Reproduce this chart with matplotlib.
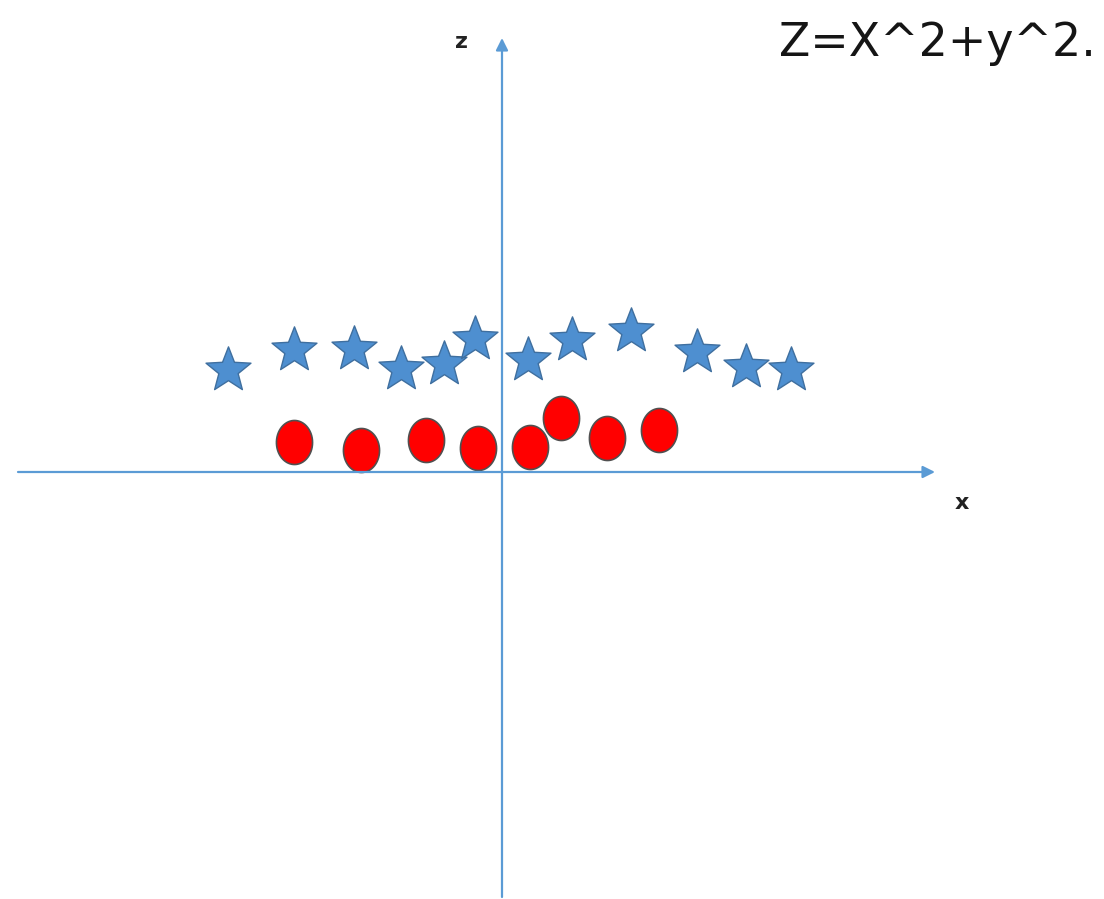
import numpy as np
import matplotlib.pyplot as plt
from matplotlib.path import Path

# points after mapping to z = x^2 + y^2 (x on the horizontal axis)
star_x = [-27.4, -20.8, -14.8, -10.1, -5.8, -2.7, 2.6, 7.0, 12.9, 19.5, 24.4, 28.9]
star_z = [10.2, 12.2, 12.3, 10.3, 10.8, 13.3, 11.2, 13.2, 14.1, 12.0, 10.5, 10.2]

dot_x = [-20.8, -14.1, -7.6, -2.4, 2.8, 5.9, 10.5, 15.7]
dot_z = [3.0, 2.2, 3.2, 2.4, 2.5, 5.4, 3.4, 4.2]

axis_color = "#5b9bd5"

fig = plt.figure(figsize=(11.04, 8.99), dpi=100)
ax = fig.add_axes([0, 0, 1, 1])
ax.set_xlim(-50.2, 60.2)
ax.set_ylim(-42.7, 47.2)
ax.axis("off")

# axes drawn as arrows through the origin
arrow = dict(arrowstyle="-|>", color=axis_color, lw=1.6, mutation_scale=18,
             shrinkA=0, shrinkB=0)
ax.annotate("", xy=(43.3, 0), xytext=(-48.4, 0), arrowprops=arrow)
ax.annotate("", xy=(0, 43.4), xytext=(0, -42.5), arrowprops=arrow)

ax.text(-4.0, 43.0, "z", fontsize=16, weight="bold", ha="center", va="center",
        color="#222222")
ax.text(46.0, -3.1, "x", fontsize=16, weight="bold", ha="center", va="center",
        color="#222222")

# slightly tall ellipse marker for the inner class
t = np.linspace(0, 2 * np.pi, 60)
ellipse = Path(np.column_stack([0.41 * np.cos(t), 0.5 * np.sin(t)]), closed=True)

# a slightly fuller five-point star than the built-in '*'
k = np.arange(11)
ang = np.pi / 2 + k * np.pi / 5
rad = np.where(k % 2 == 0, 1.0, 0.43)
star = Path(np.column_stack([rad * np.cos(ang), rad * np.sin(ang)]), closed=True)

ax.plot(dot_x, dot_z, linestyle="none", marker=ellipse, markersize=31.7,
        markerfacecolor="#ff0000", markeredgecolor="#505050", markeredgewidth=1.2)
ax.plot(star_x, star_z, linestyle="none", marker=star, markersize=34,
        markerfacecolor="#4e8fd0", markeredgecolor="#3f6f9f", markeredgewidth=1.0)

fig.text(0.706, 0.952, "Z=X^2+y^2.", fontsize=33, family="DejaVu Sans",
         ha="left", va="center", color="#151515")

fig.savefig("out.png", dpi=100)
